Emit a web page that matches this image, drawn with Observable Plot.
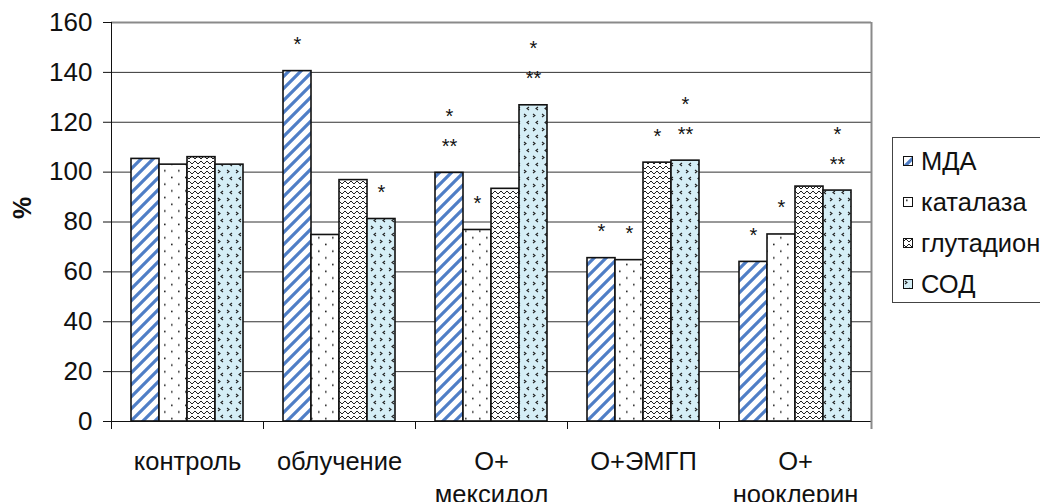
<!DOCTYPE html>
<html><head><meta charset="utf-8">
<script src="https://cdn.jsdelivr.net/npm/d3@7"></script>
<script src="https://cdn.jsdelivr.net/npm/@observablehq/plot@0.6"></script>
<style>
body{margin:0;background:#fff;font-family:"Liberation Sans",Arial,sans-serif;}
#wrap{position:relative;width:1040px;height:502px;overflow:hidden;}
#legend{position:absolute;left:892px;top:137px;width:170px;height:166px;border:1px solid #444;box-sizing:border-box;background:#fff;}
.item{position:absolute;left:10px;height:28px;display:flex;align-items:center;font-size:25.5px;color:#111;white-space:nowrap;}
.item svg{margin-right:7px;}
</style></head><body>
<svg width="0" height="0" style="position:absolute">
<defs>
<pattern id="pMDA" patternUnits="userSpaceOnUse" width="12" height="12">
 <rect width="12" height="12" fill="#fff"/>
 <path d="M-3,3 L3,-3 M0,12 L12,0 M9,15 L15,9" stroke="#4f7ec6" stroke-width="3.2"/>
</pattern>
<pattern id="pCAT" patternUnits="userSpaceOnUse" width="14" height="13.4">
 <rect width="14" height="13.4" fill="#fff"/>
 <rect x="3" y="2.5" width="1.6" height="1.6" fill="#222"/>
 <rect x="10" y="9.2" width="1.6" height="1.6" fill="#222"/>
</pattern>
<pattern id="pGLU" patternUnits="userSpaceOnUse" width="6" height="10">
 <rect width="6" height="10" fill="#fff"/>
 <path d="M0,4 L3,1 L6,4" fill="none" stroke="#222" stroke-width="1"/>
 <path d="M-3,9 L0,6 L3,9 L6,6 L9,9" fill="none" stroke="#222" stroke-width="1"/>
</pattern>
<pattern id="pSOD" patternUnits="userSpaceOnUse" width="9" height="14">
 <rect width="9" height="14" fill="#d5eef6"/>
 <path d="M2,2 L4,3.5 L2,5" fill="none" stroke="#222" stroke-width="1.1"/>
 <path d="M7,9 L5,10.5 L7,12" fill="none" stroke="#222" stroke-width="1.1"/>
</pattern>
</defs>
</svg>
<div id="wrap"><div id="legend"></div></div>
<script>
// categories
const groups = ["контроль", "облучение", "О+\nмексидол", "О+ЭМГП", "О+\nнооклерин"];
const seriesNames = ["МДА", "каталаза", "глутадион", "СОД"];
// series values (%)
const mda       = [105.3, 140.5, 99.7, 65.5, 64.0];
const catalase  = [103.0, 74.8, 76.8, 64.7, 75.0];
const glutation = [106.0, 96.8, 93.3, 103.8, 94.2];
const sod       = [103.0, 81.2, 126.8, 104.6, 92.6];
// significance marks
const mdaSig       = ["", "*", "*\n**", "*", "*"];
const catalaseSig  = ["", "", "*", "*", "*"];
const glutationSig = ["", "", "", "*", ""];
const sodSig       = ["", "*", "*\n**", "*\n**", "*\n**"];
// tick labels
const yTicks = [0, 20, 40, 60, 80, 100, 120, 140, 160];

const fills = ["url(#pMDA)", "url(#pCAT)", "url(#pGLU)", "url(#pSOD)"];
const valuesList = [mda, catalase, glutation, sod];
const sigList = [mdaSig, catalaseSig, glutationSig, sodSig];

const W = 1040, H = 502, ML = 111, MR = 169, MT = 22, MB = 81;
const bw = (W - ML - MR) / groups.length;
const pad = 20;
const barW = (bw - 2 * pad) / seriesNames.length;

const marks = [
  Plot.gridY({ticks: yTicks.slice(1, -1), stroke: "#333", strokeOpacity: 1}),
  Plot.ruleY([160], {stroke: "#8a8a8a", strokeWidth: 2})
];
seriesNames.forEach((name, i) => {
  const rows = groups.map((g, j) => ({g, v: valuesList[i][j], s: sigList[i][j]}));
  marks.push(Plot.barY(rows, {
    x: "g", y: "v", fill: fills[i], stroke: "#111", strokeWidth: 1.6,
    insetLeft: pad + i * barW, insetRight: bw - pad - (i + 1) * barW
  }));
  marks.push(Plot.text(rows, {
    x: "g", y: "v", text: "s", dx: -bw / 2 + pad + (i + 0.5) * barW, dy: -20,
    lineAnchor: "bottom", lineHeight: 1.5, fontSize: 20, fill: "#111"
  }));
});
marks.push(
  Plot.ruleY([0], {stroke: "#111"}),
  Plot.ruleX([groups[0]], {dx: -bw / 2, y1: 0, y2: 160, stroke: "#111"}),
  Plot.ruleX([groups[groups.length - 1]], {dx: bw / 2, y1: -3.2, y2: 160, stroke: "#8a8a8a", strokeWidth: 2}),
  Plot.axisX({tickSize: 8, tickFormat: () => "", dx: -bw / 2, label: null, stroke: "#111"}),
  Plot.axisX({tickSize: 0, tickPadding: 25, fontSize: 25.5, lineHeight: 1.3, label: null, fill: "#111"}),
  Plot.axisY({ticks: yTicks, tickSize: 8, tickPadding: 11, fontSize: 26, label: null, fill: "#111", stroke: "#111"}),
  Plot.text(["%"], {frameAnchor: "left", dx: -89, dy: -3, rotate: -90, fontSize: 25, fontWeight: "bold", fill: "#111"})
);

const chart = Plot.plot({
  width: W, height: H,
  marginLeft: ML, marginRight: MR, marginTop: MT, marginBottom: MB,
  x: {domain: groups, padding: 0},
  y: {domain: [0, 160]},
  style: {fontFamily: "Liberation Sans, Arial, sans-serif", background: "white", color: "#111"},
  marks
});
const wrap = document.getElementById("wrap");
wrap.insertBefore(chart, wrap.firstChild);

const legend = document.getElementById("legend");
const centers = [23, 64, 105, 146];
seriesNames.forEach((name, i) => {
  const div = document.createElement("div");
  div.className = "item";
  div.style.top = (centers[i] - 14) + "px";
  div.innerHTML = `<svg width="11" height="11"><rect x="0.5" y="0.5" width="9" height="9" fill="${fills[i]}" stroke="#111" stroke-width="1"/></svg><span>${name}</span>`;
  legend.appendChild(div);
});
</script>
</body></html>
